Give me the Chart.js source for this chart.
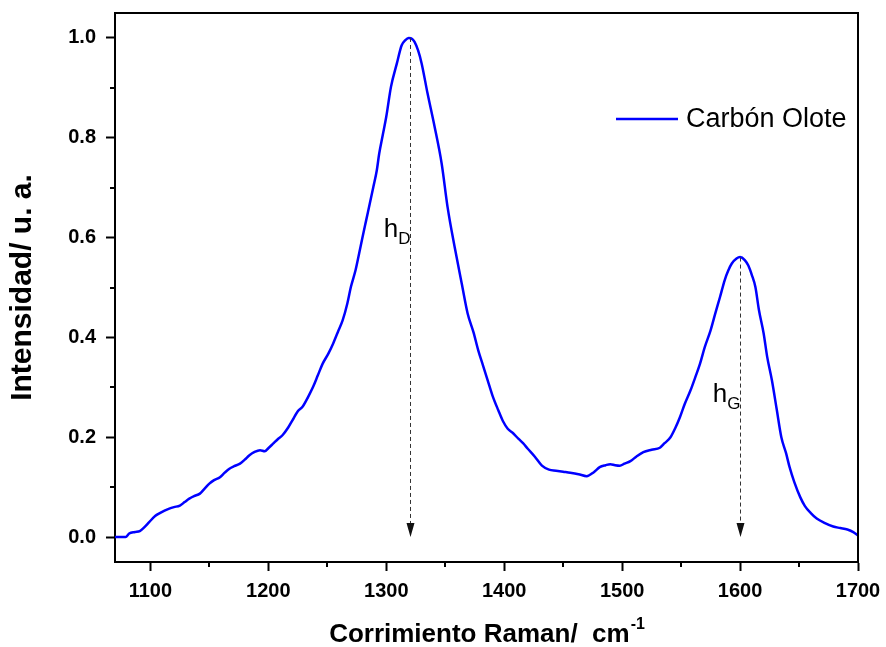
<!DOCTYPE html>
<html>
<head>
<meta charset="utf-8">
<title>Espectro Raman - Carbón Olote</title>
<script src="https://cdn.jsdelivr.net/npm/chart.js@4.4.1/dist/chart.umd.min.js"></script>
<style>
  html, body { margin: 0; padding: 0; background: #fff; }
  #wrap { width: 886px; height: 647px; position: relative; }
</style>
</head>
<body>
<div id="wrap"><canvas id="raman-chart"></canvas></div>
<script>
// Espectro Raman (desplazamiento en cm-1, intensidad normalizada)
const shift = [
  1070, 1079, 1082, 1087, 1091, 1095, 1099, 1104, 1108, 1112, 1116, 1120, 1125, 1129,
  1133, 1137, 1142, 1146, 1150, 1154, 1159, 1163, 1167, 1171, 1176, 1180, 1184, 1188,
  1193, 1197, 1200, 1204, 1208, 1212, 1217, 1221, 1225, 1229, 1234, 1238, 1242, 1246,
  1251, 1255, 1259, 1263, 1267, 1270, 1274, 1277, 1280, 1283, 1286, 1289, 1292, 1294,
  1297, 1300, 1304, 1309, 1313, 1316, 1319, 1322, 1324, 1327, 1330, 1335, 1341, 1347,
  1352, 1358, 1364, 1369, 1374, 1378, 1382, 1386, 1390, 1395, 1399, 1403, 1408, 1412,
  1416, 1420, 1426, 1432, 1438, 1444, 1450, 1456, 1463, 1470, 1476, 1481, 1486, 1490,
  1494, 1498, 1502, 1507, 1512, 1518, 1525, 1532, 1536, 1541, 1545, 1549, 1553, 1558,
  1562, 1566, 1570, 1575, 1579, 1583, 1587, 1590, 1593, 1597, 1600, 1604, 1607, 1610,
  1613, 1616, 1620, 1623, 1627, 1631, 1635, 1639, 1642, 1646, 1651, 1655, 1660, 1665,
  1672, 1679, 1685, 1691, 1696, 1700
];
const intensity = [
  0.000, 0.000, 0.007, 0.010, 0.012, 0.020, 0.030, 0.042, 0.048, 0.053, 0.057, 0.060, 0.063, 0.070,
  0.077, 0.082, 0.087, 0.097, 0.107, 0.114, 0.120, 0.129, 0.137, 0.142, 0.147, 0.155, 0.164, 0.170,
  0.174, 0.172, 0.178, 0.187, 0.196, 0.204, 0.220, 0.236, 0.252, 0.261, 0.282, 0.301, 0.324, 0.347,
  0.368, 0.388, 0.411, 0.434, 0.468, 0.501, 0.535, 0.568, 0.602, 0.635, 0.668, 0.701, 0.735, 0.768,
  0.805, 0.842, 0.902, 0.949, 0.985, 0.995, 1.000, 0.998, 0.992, 0.975, 0.949, 0.889, 0.822, 0.748,
  0.661, 0.581, 0.508, 0.448, 0.410, 0.374, 0.344, 0.314, 0.284, 0.254, 0.232, 0.217, 0.207, 0.197,
  0.188, 0.177, 0.161, 0.143, 0.135, 0.133, 0.131, 0.129, 0.126, 0.122, 0.130, 0.140, 0.144, 0.146,
  0.144, 0.143, 0.147, 0.152, 0.161, 0.170, 0.175, 0.179, 0.188, 0.200, 0.218, 0.240, 0.266, 0.294,
  0.320, 0.347, 0.380, 0.414, 0.448, 0.481, 0.515, 0.534, 0.548, 0.558, 0.561, 0.555, 0.544, 0.525,
  0.501, 0.455, 0.408, 0.361, 0.314, 0.257, 0.200, 0.168, 0.140, 0.110, 0.080, 0.062, 0.048, 0.037,
  0.028, 0.021, 0.018, 0.015, 0.010, 0.003
];
const seriesName = 'Carbón Olote';

// ejes
const xTicks = [1100, 1200, 1300, 1400, 1500, 1600, 1700];
const xMinor = [1150, 1250, 1350, 1450, 1550, 1650];
const yTicks = [0.0, 0.2, 0.4, 0.6, 0.8, 1.0];
const yMinor = [0.1, 0.3, 0.5, 0.7, 0.9];

// alturas de las bandas D y G
const peakShift = [1320, 1600];
const peakHeight = [1.0, 0.56];
const peakLabel = ['D', 'G'];
const labelLevel = [0.602, 0.27];

const FONT = "'Liberation Sans', Arial, sans-serif";

const extras = {
  id: 'extras',
  afterDatasetsDraw(chart) {
    const { ctx, chartArea: a, scales: { x, y } } = chart;
    ctx.save();

    // marco superior y derecho
    ctx.strokeStyle = '#000';
    ctx.lineWidth = 2;
    ctx.beginPath();
    ctx.moveTo(a.left - 1, a.top);
    ctx.lineTo(a.right, a.top);
    ctx.lineTo(a.right, a.bottom + 1);
    ctx.stroke();

    // marcas menores
    ctx.beginPath();
    xMinor.forEach(v => {
      const px = Math.round(x.getPixelForValue(v));
      ctx.moveTo(px, a.bottom);
      ctx.lineTo(px, a.bottom + 5);
    });
    yMinor.forEach(v => {
      const py = Math.round(y.getPixelForValue(v));
      ctx.moveTo(a.left, py);
      ctx.lineTo(a.left - 5, py);
    });
    ctx.stroke();

    // flechas punteadas hD y hG
    const y0 = y.getPixelForValue(0);
    peakShift.forEach((s, i) => {
      const px = Math.round(x.getPixelForValue(s)) + 0.5;
      const top = y.getPixelForValue(peakHeight[i]);
      ctx.strokeStyle = '#333';
      ctx.lineWidth = 1;
      ctx.setLineDash([4, 3]);
      ctx.beginPath();
      ctx.moveTo(px, top);
      ctx.lineTo(px, y0 - 12);
      ctx.stroke();
      ctx.setLineDash([]);
      ctx.fillStyle = '#111';
      ctx.beginPath();
      ctx.moveTo(px - 4, y0 - 14);
      ctx.lineTo(px + 4, y0 - 14);
      ctx.lineTo(px, y0);
      ctx.closePath();
      ctx.fill();

      // etiqueta h con subíndice
      ctx.fillStyle = '#000';
      ctx.textBaseline = 'alphabetic';
      ctx.textAlign = 'left';
      const mainFont = '26px ' + FONT;
      const subFont = '17px ' + FONT;
      ctx.font = mainFont;
      const wh = ctx.measureText('h').width;
      ctx.font = subFont;
      const ws = ctx.measureText(peakLabel[i]).width;
      const base = y.getPixelForValue(labelLevel[i]);
      const start = px - wh - ws;
      ctx.font = mainFont;
      ctx.fillText('h', start, base);
      ctx.font = subFont;
      ctx.fillText(peakLabel[i], start + wh, base + 7);
    });

    // leyenda
    const lx = a.right - 242;
    const ly = a.top + 106;
    ctx.strokeStyle = '#0000ff';
    ctx.lineWidth = 2.5;
    ctx.beginPath();
    ctx.moveTo(lx, ly);
    ctx.lineTo(lx + 62, ly);
    ctx.stroke();
    ctx.fillStyle = '#000';
    ctx.font = '27px ' + FONT;
    ctx.textBaseline = 'middle';
    ctx.fillText(seriesName, lx + 70, ly + 1);

    // título del eje x con superíndice
    const mainT = 'Corrimiento Raman/  cm';
    const supT = '-1';
    ctx.font = 'bold 26px ' + FONT;
    const wm = ctx.measureText(mainT).width;
    ctx.font = 'bold 16px ' + FONT;
    const wsup = ctx.measureText(supT).width;
    const cx = (a.left + a.right) / 2;
    const tx = cx - (wm + wsup) / 2;
    const ty = a.bottom + 80;
    ctx.textBaseline = 'alphabetic';
    ctx.font = 'bold 26px ' + FONT;
    ctx.fillText(mainT, tx, ty);
    ctx.font = 'bold 16px ' + FONT;
    ctx.fillText(supT, tx + wm + 1, ty - 13);

    ctx.restore();
  }
};

// sin márgenes extra por las etiquetas de los extremos
const noEdgePadding = s => {
  s.paddingTop = 0;
  s.paddingBottom = 0;
  s.paddingLeft = 0;
  s.paddingRight = 0;
};

const ctx = document.getElementById('raman-chart').getContext('2d');
const ramanChart = new Chart(ctx, {
  type: 'line',
  data: {
    datasets: [{
      label: seriesName,
      data: shift.map((s, i) => ({ x: s, y: intensity[i] })),
      borderColor: '#0000ff',
      borderWidth: 2.5,
      pointRadius: 0,
      fill: false,
      cubicInterpolationMode: 'monotone'
    }]
  },
  options: {
    responsive: true,
    maintainAspectRatio: false,
    animation: false,
    layout: { padding: { top: 13, right: 28, left: 0, bottom: 0 } },
    plugins: {
      legend: { display: false },
      tooltip: { enabled: false }
    },
    scales: {
      x: {
        type: 'linear',
        min: 1070,
        max: 1700,
        afterBuildTicks: s => { s.ticks = xTicks.map(v => ({ value: v })); },
        afterFit: s => { s.height = 85; noEdgePadding(s); },
        grid: { drawOnChartArea: false, tickLength: 9, tickWidth: 2, tickColor: '#000' },
        border: { display: true, color: '#000', width: 2 },
        ticks: {
          color: '#000',
          padding: 8,
          maxRotation: 0,
          font: { family: FONT, size: 20, weight: 'bold' },
          callback: v => String(v)
        }
      },
      y: {
        min: -0.05,
        max: 1.05,
        afterBuildTicks: s => { s.ticks = yTicks.map(v => ({ value: v })); },
        afterFit: s => { s.width = 115; noEdgePadding(s); },
        grid: { drawOnChartArea: false, tickLength: 9, tickWidth: 2, tickColor: '#000' },
        border: { display: true, color: '#000', width: 2 },
        ticks: {
          color: '#000',
          padding: 10,
          font: { family: FONT, size: 20, weight: 'bold' },
          callback: v => v.toFixed(1)
        },
        title: {
          display: true,
          text: 'Intensidad/ u. a.',
          color: '#000',
          padding: { top: 5 },
          font: { family: FONT, size: 30, weight: 'bold' }
        }
      }
    }
  },
  plugins: [extras]
});
</script>
</body>
</html>
